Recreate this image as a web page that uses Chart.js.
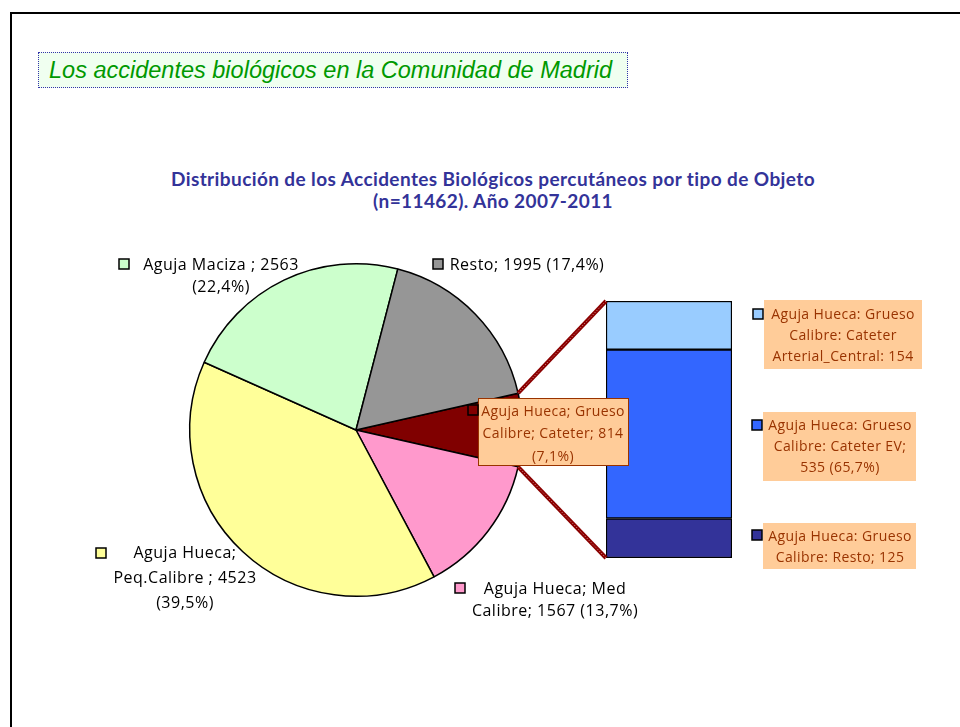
<!DOCTYPE html>
<html>
<head>
<meta charset="utf-8">
<script src="https://cdn.jsdelivr.net/npm/chart.js@4.4.1/dist/chart.umd.min.js"></script>
<style>
  body { margin: 0; background: #fff; }
  #slide { position: relative; width: 960px; height: 727px; overflow: hidden; background: #fff; }
  #frame { position: absolute; left: 10px; top: 12px; width: 980px; height: 740px; border-left: 2px solid #000; border-top: 2px solid #000; }
  #head { position: absolute; left: 38px; top: 52px; width: 578px; height: 34px; border: 1px dotted #3333aa; background: #f0fff0;
          color: #009900; font: italic 23.5px "Liberation Sans", Arial, sans-serif; line-height: 34px; padding-left: 10px; white-space: nowrap; }
  #ttl { position: absolute; left: 26px; width: 934px; top: 168px; text-align: center; color: #333399;
         font: bold 19px Lato, sans-serif; letter-spacing: 0.4px; line-height: 22px; }
  canvas { position: absolute; left: 0; top: 0; }
</style>
</head>
<body>
<div id="slide">
  <div id="frame"></div>
  <div id="head">Los accidentes biológicos en la Comunidad de Madrid</div>
  <div id="ttl">Distribución de los Accidentes Biológicos percutáneos por tipo de Objeto<br>(n=11462). Año 2007-2011</div>
  <canvas id="barCanvas" width="960" height="727"></canvas>
  <canvas id="pieCanvas" width="960" height="727"></canvas>
</div>
<script>
// main pie, clockwise from the split slice
const pieCategories = ['Aguja Hueca: Grueso Calibre; Cateter', 'Aguja Hueca; Med Calibre', 'Aguja Hueca; Peq.Calibre', 'Aguja Maciza', 'Resto'];
const pieValues = [814, 1567, 4523, 2563, 1995];
const pieLabelText = [
  ['Aguja Hueca; Grueso', 'Calibre; Cateter; 814', '(7,1%)'],
  ['Aguja Hueca; Med', 'Calibre; 1567 (13,7%)'],
  ['Aguja Hueca;', 'Peq.Calibre ; 4523', '(39,5%)'],
  ['Aguja Maciza ; 2563', '(22,4%)'],
  ['Resto; 1995 (17,4%)']
];

// split of the catheter slice, bottom to top
const barCategories = ['Aguja Hueca: Grueso Calibre: Resto', 'Aguja Hueca: Grueso Calibre: Cateter EV', 'Aguja Hueca: Grueso Calibre: Cateter Arterial_Central'];
const barValues = [125, 535, 154];
const barLabelText = [
  ['Aguja Hueca: Grueso', 'Calibre: Resto; 125'],
  ['Aguja Hueca: Grueso', 'Calibre: Cateter EV;', '535 (65,7%)'],
  ['Aguja Hueca: Grueso', 'Calibre: Cateter', 'Arterial_Central: 154']
];

const pieColors = ['#800000', '#ff99cc', '#ffff99', '#ccffcc', '#969696'];
const barColors = ['#333399', '#3366ff', '#99ccff'];

// label layout (key square, text centre, first line y, line height, optional box)
const pieLabelPos = [
  { kx: 468, ky: 405, cx: 553, ty: 412, lh: 22.5, box: [478, 398, 151, 68], border: true },
  { kx: 455, ky: 583, cx: 555, ty: 589, lh: 22 },
  { kx: 96,  ky: 548, cx: 185, ty: 553, lh: 25 },
  { kx: 119, ky: 259, cx: 221, ty: 265, lh: 22 },
  { kx: 433, ky: 259, cx: 527, ty: 265, lh: 22 }
];
const barLabelPos = [
  { kx: 752, ky: 530, cx: 840, ty: 537, lh: 21, box: [763, 523, 153, 46] },
  { kx: 752, ky: 420, cx: 840, ty: 426, lh: 21, box: [763, 412, 153, 69] },
  { kx: 753, ky: 309, cx: 843, ty: 315, lh: 21, box: [764, 300, 158, 69] }
];

const pieTotal = pieValues.reduce((a, b) => a + b, 0);
const barTotal = barValues.reduce((a, b) => a + b, 0);
const bigFont = '16px "Open Sans", sans-serif';
const boxFont = '14px "Open Sans", sans-serif';

function drawLabel(ctx, pos, lines, keyColor, textColor, font, spacing) {
  ctx.save();
  if (pos.box) {
    ctx.fillStyle = '#ffcc99';
    ctx.fillRect(pos.box[0], pos.box[1], pos.box[2], pos.box[3]);
    if (pos.border) {
      ctx.strokeStyle = '#993300';
      ctx.lineWidth = 1;
      ctx.strokeRect(pos.box[0] + 0.5, pos.box[1] + 0.5, pos.box[2] - 1, pos.box[3] - 1);
    }
  }
  ctx.fillStyle = keyColor;
  ctx.fillRect(pos.kx, pos.ky, 10, 10);
  ctx.strokeStyle = '#000';
  ctx.lineWidth = 1.5;
  ctx.strokeRect(pos.kx, pos.ky, 10, 10);
  ctx.fillStyle = textColor;
  ctx.font = font;
  ctx.letterSpacing = spacing;
  ctx.textAlign = 'center';
  ctx.textBaseline = 'middle';
  lines.forEach((t, i) => ctx.fillText(t, pos.cx, pos.ty + i * pos.lh));
  ctx.restore();
}

const barChart = new Chart(document.getElementById('barCanvas'), {
  type: 'bar',
  data: {
    labels: ['Cateter'],
    datasets: barValues.map((v, i) => ({
      label: barCategories[i],
      data: [v],
      backgroundColor: barColors[i],
      borderColor: '#000',
      borderWidth: 1.5,
      borderSkipped: false,
      barPercentage: 1,
      categoryPercentage: 1
    }))
  },
  options: {
    responsive: false,
    animation: false,
    layout: { padding: { left: 606, right: 228, top: 301, bottom: 169 } },
    plugins: { legend: { display: false }, tooltip: { enabled: false } },
    scales: {
      x: { display: false, stacked: true },
      y: { display: false, stacked: true, min: 0, max: barTotal }
    }
  }
});

const pieExtras = {
  id: 'pieExtras',
  afterDatasetsDraw(chart) {
    const ctx = chart.ctx;
    const arc = chart.getDatasetMeta(0).data[0];
    const top = barChart.getDatasetMeta(barValues.length - 1).data[0];
    const bottom = barChart.getDatasetMeta(0).data[0];
    const r = arc.outerRadius;
    const p1 = [arc.x + r * Math.cos(arc.startAngle), arc.y + r * Math.sin(arc.startAngle)];
    const p2 = [arc.x + r * Math.cos(arc.endAngle), arc.y + r * Math.sin(arc.endAngle)];
    const segs = [
      [p1, [top.x - top.width / 2, top.y]],
      [p2, [bottom.x - bottom.width / 2, bottom.base]]
    ];
    ctx.save();
    segs.forEach(([a, b]) => {
      ctx.beginPath();
      ctx.moveTo(a[0], a[1]);
      ctx.lineTo(b[0], b[1]);
      ctx.strokeStyle = '#8b0000';
      ctx.lineWidth = 4;
      ctx.stroke();
      ctx.setLineDash([1, 2]);
      ctx.strokeStyle = '#d8a0a0';
      ctx.lineWidth = 1;
      ctx.stroke();
      ctx.setLineDash([]);
    });
    ctx.restore();
  },
  afterDraw(chart) {
    const ctx = chart.ctx;
    pieLabelText.forEach((lines, i) => {
      if (i === 0) drawLabel(ctx, pieLabelPos[i], lines, pieColors[i], '#993300', boxFont, '0.4px');
      else drawLabel(ctx, pieLabelPos[i], lines, pieColors[i], '#000', bigFont, '0.5px');
    });
    barLabelText.forEach((lines, i) => {
      drawLabel(ctx, barLabelPos[i], lines, barColors[i], '#993300', boxFont, '0.4px');
    });
  }
};

new Chart(document.getElementById('pieCanvas'), {
  type: 'pie',
  data: {
    labels: pieCategories,
    datasets: [{
      data: pieValues,
      backgroundColor: pieColors,
      borderColor: '#000',
      borderWidth: 1.5
    }]
  },
  options: {
    responsive: false,
    animation: false,
    rotation: 90 - 180 * pieValues[0] / pieTotal,
    layout: { padding: { left: 189, right: 437, top: 263, bottom: 130 } },
    plugins: { legend: { display: false }, tooltip: { enabled: false } }
  },
  plugins: [pieExtras]
});
</script>
</body>
</html>
